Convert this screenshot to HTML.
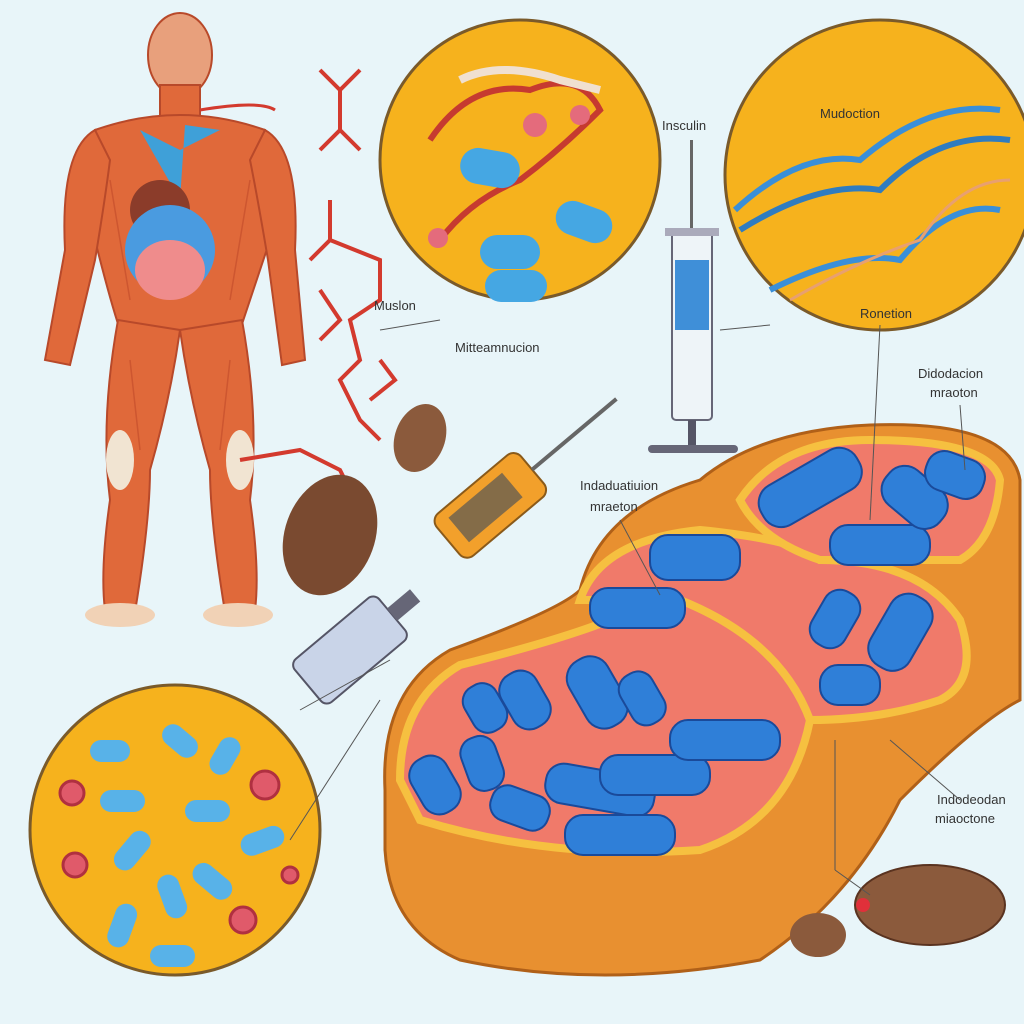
<!DOCTYPE html>
<html><head><meta charset="utf-8"><style>
html,body{margin:0;padding:0;background:#e8f5f9;}
svg{display:block}
text{font-family:"Liberation Sans",sans-serif;font-size:13px;fill:#333}
</style></head><body>
<svg width="1024" height="1024" viewBox="0 0 1024 1024" xmlns="http://www.w3.org/2000/svg">
<rect width="1024" height="1024" fill="#e8f5f9"/>
<!-- human figure -->
<g fill="#e0693a" stroke="#b8492a" stroke-width="2">
<ellipse cx="180" cy="55" rx="32" ry="42" fill="#e8a07c"/>
<rect x="160" y="85" width="40" height="35"/>
<path d="M95 130 Q180 100 265 130 L270 240 Q250 300 240 330 L120 330 Q110 300 95 240 Z"/>
<path d="M95 130 Q60 150 65 250 L45 360 L70 365 L95 260 Q105 200 110 160Z"/>
<path d="M265 130 Q300 150 295 250 L305 360 L282 365 L268 260 Q258 200 250 160Z"/>
<path d="M118 320 Q100 420 110 500 Q100 570 105 610 L135 612 Q150 520 150 470 Q170 400 180 330Z"/>
<path d="M242 320 Q260 420 250 500 Q260 570 255 610 L225 612 Q210 520 210 470 Q190 400 180 330Z"/>
</g>
<g stroke="#c04a2a" stroke-width="1.5" fill="none" opacity=".6"><path d="M130 360 L140 450 M230 360 L220 450 M110 180 L130 300 M250 180 L230 300"/></g>
<path d="M140 130 L180 150 L220 130 L185 125 L180 200 Z" fill="#3fa0d8"/>
<ellipse cx="160" cy="210" rx="30" ry="30" fill="#8b3c2a"/>
<ellipse cx="170" cy="250" rx="45" ry="45" fill="#4a9be0"/>
<ellipse cx="170" cy="270" rx="35" ry="30" fill="#ef8c8c"/>
<ellipse cx="120" cy="615" rx="35" ry="12" fill="#f1d2b6"/>
<ellipse cx="238" cy="615" rx="35" ry="12" fill="#f1d2b6"/>
<ellipse cx="120" cy="460" rx="14" ry="30" fill="#f1e4d2"/>
<ellipse cx="240" cy="460" rx="14" ry="30" fill="#f1e4d2"/>
<!-- red vessels -->
<g stroke="#d33a2e" stroke-width="4" fill="none">
<path d="M320 70 L340 90 L360 70 M340 90 L340 130 L320 150 M340 130 L360 150 M330 200 L330 240 L310 260 M330 240 L380 260 L380 300 L350 320 L360 360 L340 380 L360 420 L380 440 M320 290 L340 320 L320 340 M380 360 L395 380 L370 400 M240 460 L300 450 L340 470 L350 490"/>
</g>
<path d="M200 110 Q260 100 275 110" stroke="#d33a2e" stroke-width="3" fill="none"/>
<!-- top-center circle -->
<circle cx="520" cy="160" r="140" fill="#f6b21d" stroke="#7a5a2a" stroke-width="3"/>
<path d="M430 140 Q470 80 530 90 Q580 70 600 110 Q560 150 520 180 Q470 200 440 240" stroke="#c63a30" stroke-width="6" fill="none"/>
<path d="M460 80 Q500 60 560 80 L600 90" stroke="#f0e0d0" stroke-width="8" fill="none"/>
<circle cx="535" cy="125" r="12" fill="#e46b7c"/><circle cx="580" cy="115" r="10" fill="#e46b7c"/><circle cx="438" cy="238" r="10" fill="#e46b7c"/>
<g fill="#45a7e3"><rect x="460" y="150" width="60" height="36" rx="18" transform="rotate(10 490 168)"/><rect x="480" y="235" width="60" height="34" rx="17"/><rect x="555" y="205" width="58" height="34" rx="17" transform="rotate(20 584 222)"/><rect x="485" y="270" width="62" height="32" rx="16"/></g>
<!-- top-right circle -->
<circle cx="880" cy="175" r="155" fill="#f6b21d" stroke="#7a5a2a" stroke-width="3"/>
<g fill="none" stroke-width="6"><path d="M735 210 Q800 150 860 160 Q930 100 1000 110" stroke="#3a8fd8"/><path d="M740 230 Q820 180 880 190 Q940 130 1010 140" stroke="#2f7cc0"/><path d="M770 290 Q850 250 900 260 Q950 200 1000 210" stroke="#3a8fd8"/><path d="M790 300 Q860 260 920 240 Q960 180 1010 180" stroke="#e8a070" stroke-width="3"/></g>
<text x="820" y="118">Mudoction</text><text x="860" y="318">Ronetion</text>
<!-- syringe upright -->
<rect x="690" y="140" width="3" height="90" fill="#666"/>
<rect x="672" y="230" width="40" height="190" rx="4" fill="#eef4f8" stroke="#667" stroke-width="2"/>
<rect x="675" y="260" width="34" height="70" fill="#3f8fd8"/>
<rect x="665" y="228" width="54" height="8" fill="#aab"/>
<rect x="688" y="420" width="8" height="25" fill="#556"/>
<rect x="648" y="445" width="90" height="8" rx="4" fill="#667"/>
<text x="662" y="130">Insculin</text>
<!-- diagonal syringe -->
<g transform="rotate(-40 490 505)"><rect x="435" y="478" width="110" height="55" rx="10" fill="#f2a02b" stroke="#8a5a1a" stroke-width="2"/><rect x="450" y="488" width="70" height="32" fill="#555" opacity=".7"/><rect x="545" y="503" width="110" height="4" fill="#666"/></g>
<g transform="rotate(-40 350 650)"><rect x="295" y="622" width="110" height="56" rx="8" fill="#c9d4e8" stroke="#556" stroke-width="2"/><rect x="405" y="642" width="30" height="16" fill="#667"/></g>
<!-- small mito -->
<ellipse cx="420" cy="438" rx="25" ry="35" fill="#8b5a3c" transform="rotate(20 420 438)"/>
<ellipse cx="330" cy="535" rx="45" ry="62" fill="#7a4a30" transform="rotate(20 330 535)"/>
<text x="374" y="310">Muslon</text><text x="455" y="352">Mitteamnucion</text>
<line x1="380" y1="330" x2="440" y2="320" stroke="#555"/>
<!-- bottom-left circle -->
<circle cx="175" cy="830" r="145" fill="#f6b21d" stroke="#7a5a2a" stroke-width="3"/>
<g fill="#58b2e8"><rect x="90" y="740" width="40" height="22" rx="11"/><rect x="160" y="730" width="40" height="22" rx="11" transform="rotate(40 180 741)"/><rect x="205" y="745" width="40" height="22" rx="11" transform="rotate(-60 225 756)"/><rect x="100" y="790" width="45" height="22" rx="11"/><rect x="185" y="800" width="45" height="22" rx="11"/><rect x="240" y="830" width="45" height="22" rx="11" transform="rotate(-20 262 841)"/><rect x="110" y="840" width="45" height="22" rx="11" transform="rotate(-50 132 851)"/><rect x="190" y="870" width="45" height="22" rx="11" transform="rotate(40 212 881)"/><rect x="150" y="885" width="45" height="22" rx="11" transform="rotate(70 172 896)"/><rect x="100" y="915" width="45" height="22" rx="11" transform="rotate(-70 122 926)"/><rect x="150" y="945" width="45" height="22" rx="11"/></g>
<g fill="#e05a6a" stroke="#b03040" stroke-width="3"><circle cx="72" cy="793" r="12"/><circle cx="265" cy="785" r="14"/><circle cx="75" cy="865" r="12"/><circle cx="290" cy="875" r="8"/><circle cx="243" cy="920" r="13"/></g>
<!-- big mitochondrion -->
<path d="M385 790 Q380 690 450 650 Q560 610 580 590 Q600 510 700 480 Q760 430 870 425 Q1010 420 1020 480 L1020 700 Q980 720 900 800 Q850 900 760 960 Q600 990 460 960 Q390 930 385 850Z" fill="#e89030" stroke="#b06018" stroke-width="3"/>
<path d="M400 780 Q400 700 460 665 Q560 640 610 620 L680 600 Q780 640 810 720 Q790 820 700 850 Q550 860 420 820Z" fill="#f07a6a" stroke="#f6c040" stroke-width="8"/>
<path d="M580 600 Q600 540 700 530 Q800 540 820 560 Q920 560 960 620 Q980 680 940 700 Q880 720 810 720 Q780 640 680 600Z" fill="#f07a6a" stroke="#f6c040" stroke-width="8"/>
<path d="M740 500 Q780 440 870 440 Q990 440 1000 480 Q995 540 960 560 L820 560 Q760 540 740 500Z" fill="#f07a6a" stroke="#f6c040" stroke-width="8"/>
<g fill="#2f7fd8" stroke="#1a4a9a" stroke-width="2">
<rect x="405" y="765" width="60" height="40" rx="18" transform="rotate(60 435 785)"/>
<rect x="455" y="745" width="55" height="36" rx="16" transform="rotate(70 482 763)"/>
<rect x="460" y="690" width="50" height="36" rx="16" transform="rotate(60 485 708)"/>
<rect x="495" y="680" width="60" height="40" rx="18" transform="rotate(60 525 700)"/>
<rect x="560" y="670" width="75" height="44" rx="20" transform="rotate(60 597 692)"/>
<rect x="615" y="680" width="55" height="36" rx="16" transform="rotate(60 642 698)"/>
<rect x="490" y="790" width="60" height="36" rx="16" transform="rotate(20 520 808)"/>
<rect x="545" y="770" width="110" height="40" rx="18" transform="rotate(10 600 790)"/>
<rect x="565" y="815" width="110" height="40" rx="18"/>
<rect x="600" y="755" width="110" height="40" rx="18"/>
<rect x="670" y="720" width="110" height="40" rx="18"/>
<rect x="590" y="588" width="95" height="40" rx="18"/>
<rect x="650" y="535" width="90" height="45" rx="18"/>
<rect x="805" y="600" width="60" height="38" rx="17" transform="rotate(-60 835 619)"/>
<rect x="860" y="610" width="80" height="45" rx="20" transform="rotate(-60 900 632)"/>
<rect x="820" y="665" width="60" height="40" rx="18"/>
<rect x="755" y="465" width="110" height="45" rx="20" transform="rotate(-30 810 487)"/>
<rect x="830" y="525" width="100" height="40" rx="18"/>
<rect x="880" y="475" width="70" height="45" rx="20" transform="rotate(40 915 497)"/>
<rect x="925" y="455" width="60" height="40" rx="18" transform="rotate(20 955 475)"/>
</g>
<ellipse cx="930" cy="905" rx="75" ry="40" fill="#8b5a3c" stroke="#5a3320" stroke-width="2"/>
<ellipse cx="818" cy="935" rx="28" ry="22" fill="#8b5a3c"/>
<circle cx="863" cy="905" r="7" fill="#e0303a"/>
<g fill="#333"><text x="580" y="490">Indaduatiuion</text><text x="590" y="511">mraeton</text><text x="918" y="378">Didodacion</text><text x="930" y="397">mraoton</text><text x="937" y="804">Indodeodan</text><text x="935" y="823">miaoctone</text></g>
<g stroke="#555" fill="none"><line x1="620" y1="520" x2="660" y2="595"/><line x1="960" y1="405" x2="965" y2="470"/><line x1="890" y1="740" x2="960" y2="800"/><line x1="835" y1="740" x2="835" y2="870"/><line x1="835" y1="870" x2="870" y2="895"/><line x1="300" y1="710" x2="390" y2="660"/><line x1="290" y1="840" x2="380" y2="700"/><line x1="770" y1="325" x2="720" y2="330"/><line x1="880" y1="325" x2="870" y2="520"/></g>
</svg>
</body></html>
